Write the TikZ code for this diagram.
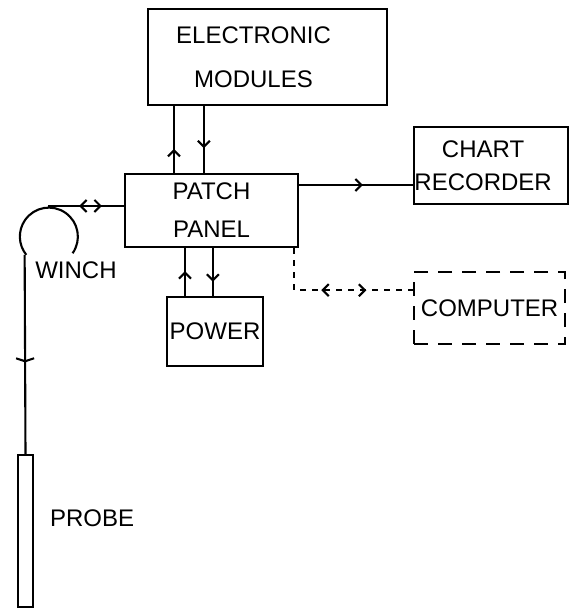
\documentclass[tikz,border=0pt]{standalone}
\usepackage{fontspec}
\setmainfont{Liberation Sans}
\usetikzlibrary{arrows.meta,positioning,decorations.markings}

\begin{document}
\begin{tikzpicture}[x=0.5pt,y=-0.5pt,line width=1.05pt,
  every node/.style={font=\fontsize{12}{14}\selectfont},
  box/.style={draw,inner sep=0pt,align=center},
  mid/.style={postaction={decorate,decoration={markings,mark=at position #1 with {\arrow{Straight Barb[length=3pt,width=6pt]}}}}},
  midrev/.style={postaction={decorate,decoration={markings,mark=at position #1 with {\arrowreversed{Straight Barb[length=3pt,width=6pt]}}}}},
  tick/.style={postaction={decorate,decoration={markings,mark=at position #1 with {\arrow{Straight Barb[length=1.5pt,width=9pt]}}}}},
  dashline/.style={dash pattern=on 3pt off 3pt}]
\useasboundingbox (0,0) rectangle (577,611);
\node[box,minimum width=119.5pt,minimum height=48pt] (mod) at (267.5,57) {ELECTRONIC\hspace*{14pt}\\[8pt]MODULES\hspace*{14pt}};
\node[box,minimum width=86.5pt,minimum height=36.5pt,below=33.5pt of mod,xshift=-28pt] (patch) {PATCH\\[5pt]PANEL};
\node[box,minimum width=77pt,minimum height=38.5pt,right=57pt of patch,yshift=22.5pt] (chart) {CHART\hspace*{8pt}\\[2.5pt]RECORDER\hspace*{8pt}};
\node[box,minimum width=48pt,minimum height=34.5pt,below=24pt of patch,xshift=1.75pt] (power) {POWER};
\node[box,dash pattern=on 7pt off 5pt,minimum width=75.5pt,minimum height=36pt,below=33pt of chart,xshift=-0.75pt] (comp) {COMPUTER};
\node[box,minimum width=7.5pt,minimum height=76pt] (probe) at (25.5,531) {};
\node[inner sep=0pt,right=7.5pt of probe,yshift=6.5pt] (probelabel) {PROBE};
\node[circle,minimum size=29pt,inner sep=0pt] (winch) at (48,236) {};
\node[inner sep=0pt] (winchlabel) at (76,270) {WINCH};
% links
\draw[mid=0.36] ([xshift=25pt]patch.north west) -- ([xshift=25pt]patch.north west |- mod.south);
\draw[mid=0.63] ([xshift=40pt]patch.north west |- mod.south) -- ([xshift=40pt]patch.north west);
\draw[mid=0.56] ([yshift=-6pt]patch.north east) -- ([yshift=-6pt]patch.north east -| chart.west);
\draw[mid=0.52] ([xshift=9.5pt]power.north west) -- ([xshift=9.5pt]power.north west |- patch.south);
\draw[mid=0.7] ([xshift=23.5pt]power.north west |- patch.south) -- ([xshift=23.5pt]power.north west);
\draw[dashline,midrev=0.43,mid=0.71] ([xshift=-2.5pt]patch.south east) |- ([yshift=-9.5pt]comp.north west);
% winch and cable
\draw (winch.-35) arc[start angle=-35,end angle=219,radius=14.5pt];
\draw[midrev=0.41,mid=0.71] (winch.north) -- (winch.north -| patch.west);
\draw[tick=0.54] (winch.219) -- (probe.north);
\end{tikzpicture}
\end{document}
